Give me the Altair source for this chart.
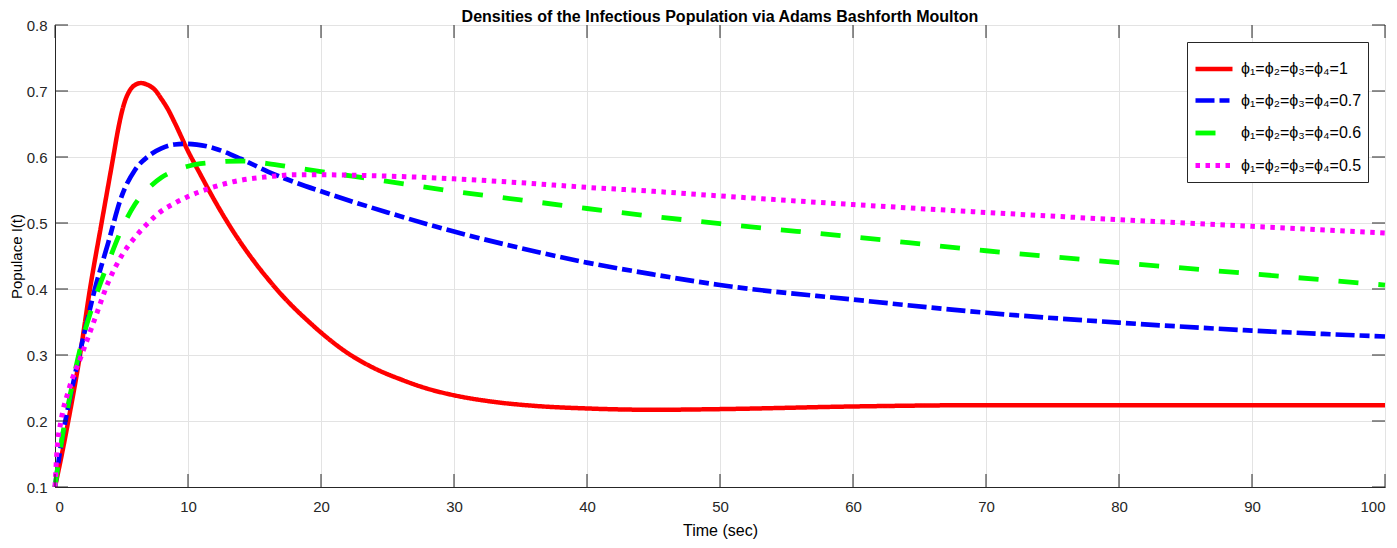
import altair as alt
import pandas as pd

# phi = 1
t_1 = [0, 0.5, 1, 1.88, 2.63, 3.5, 4.38, 4.7, 5.0, 5.3, 5.6, 6, 6.46, 7, 7.5, 8, 8.5, 9, 10, 11, 12, 13, 14, 15,
       16, 17, 18, 19, 20, 22, 24, 26, 28, 30, 33, 36, 40, 45, 50, 60, 70, 80, 90, 100]
s_1 = [0.1, 0.148, 0.2, 0.3, 0.4, 0.5, 0.6, 0.637, 0.666, 0.687, 0.700, 0.709, 0.712, 0.709, 0.702, 0.688, 0.672,
       0.652, 0.609, 0.571, 0.534, 0.500, 0.469, 0.441, 0.4155, 0.392, 0.371, 0.352, 0.334, 0.303, 0.280, 0.263,
       0.249, 0.239, 0.229, 0.223, 0.219, 0.217, 0.218, 0.222, 0.224, 0.224, 0.224, 0.224]

# phi = 0.7 and 0.6
t_c = [0, 0.5, 1, 2, 3, 4, 5, 6, 7, 8, 9, 10, 12, 14, 16, 18, 20, 25, 30, 35, 40, 45, 50, 60, 70, 80, 90, 100]
s_07 = [0.1, 0.17, 0.222, 0.315, 0.40, 0.47, 0.54, 0.58, 0.601, 0.613, 0.619, 0.62, 0.613, 0.597, 0.578, 0.562,
        0.548, 0.516, 0.487, 0.462, 0.440, 0.422, 0.406, 0.384, 0.364, 0.349, 0.337, 0.328]
s_06 = [0.1, 0.17, 0.225, 0.318, 0.385, 0.44, 0.49, 0.528, 0.552, 0.569, 0.579, 0.586, 0.592, 0.594, 0.590, 0.584,
        0.578, 0.563, 0.548, 0.535, 0.522, 0.510, 0.499, 0.479, 0.458, 0.440, 0.423, 0.406]

# phi = 0.5
t_05 = [0, 0.15, 0.45, 1, 2, 3, 4, 5, 6, 7, 8, 9, 10, 12, 14, 16, 18, 20, 25, 30, 35, 40, 45, 50, 60, 70, 80, 90, 100]
s_05 = [0.1, 0.155, 0.2, 0.245, 0.3, 0.355, 0.41, 0.45, 0.478, 0.5, 0.518, 0.53, 0.54, 0.555, 0.565, 0.570, 0.573,
        0.573, 0.571, 0.567, 0.561, 0.554, 0.548, 0.541, 0.528, 0.516, 0.505, 0.495, 0.485]

labels = ["ϕ₁=ϕ₂=ϕ₃=ϕ₄=1", "ϕ₁=ϕ₂=ϕ₃=ϕ₄=0.7", "ϕ₁=ϕ₂=ϕ₃=ϕ₄=0.6", "ϕ₁=ϕ₂=ϕ₃=ϕ₄=0.5"]
times = [t_1, t_c, t_c, t_05]
series = [s_1, s_07, s_06, s_05]
colors = ["#ff0000", "#0000ff", "#00ff00", "#ff00ff"]
dashes = [[1, 0], [19, 5, 10, 5], [20, 20], [4.5, 5.5]]
widths = [4.5, 5, 5, 5]

x_ticks = list(range(0, 101, 10))
y_ticks = [0.1, 0.2, 0.3, 0.4, 0.5, 0.6, 0.7, 0.8]

rows = []
for lab, tt, vals in zip(labels, times, series):
    for ti, v in zip(tt, vals):
        rows.append({"t": ti, "v": v, "s": lab})
df = pd.DataFrame(rows)

df_xb = pd.DataFrame({"t": x_ticks, "v": [0.1] * len(x_ticks)})
df_xt = pd.DataFrame({"t": x_ticks, "v": [0.8] * len(x_ticks)})
df_yl = pd.DataFrame({"t": [0] * len(y_ticks), "v": y_ticks})
df_yr = pd.DataFrame({"t": [100] * len(y_ticks), "v": y_ticks})

font = "Liberation Sans"
xs = alt.Scale(domain=[0, 100], nice=False)
ys = alt.Scale(domain=[0.1, 0.8], nice=False, zero=False)
x_axis = alt.Axis(title="Time (sec)", values=x_ticks, format="d", grid=True, ticks=False)
y_axis = alt.Axis(title="Populace I(t)", values=y_ticks, format=".1f", grid=True, ticks=False)

lines = alt.Chart(df).mark_line(interpolate="monotone").encode(
    x=alt.X("t:Q", scale=xs, axis=x_axis),
    y=alt.Y("v:Q", scale=ys, axis=y_axis),
    color=alt.Color("s:N", scale=alt.Scale(domain=labels, range=colors), sort=labels,
                    legend=alt.Legend(title=None, orient="top-right", offset=17)),
    strokeDash=alt.StrokeDash("s:N", scale=alt.Scale(domain=labels, range=dashes), sort=labels, legend=None),
    strokeWidth=alt.StrokeWidth("s:N", scale=alt.Scale(domain=labels, range=widths), sort=labels, legend=None),
    detail="s:N",
)


def ticks(data, orient, dx=0, dy=0):
    return alt.Chart(data).mark_tick(orient=orient, size=13, thickness=1, color="#262626",
                                     xOffset=dx, yOffset=dy, opacity=1).encode(
        x=alt.X("t:Q", scale=xs, axis=x_axis),
        y=alt.Y("v:Q", scale=ys, axis=y_axis),
    )


chart = alt.layer(
    lines,
    ticks(df_xb, "vertical", dy=-6.5),
    ticks(df_xt, "vertical", dy=6.5),
    ticks(df_yl, "horizontal", dx=6.5),
    ticks(df_yr, "horizontal", dx=-6.5),
).properties(
    width=1330, height=462,
    title=alt.TitleParams("Densities of the Infectious Population via Adams Bashforth Moulton",
                          font="Liberation Sans", fontSize=16, fontWeight="bold", color="#000000",
                          anchor="middle", offset=-7),
    autosize=alt.AutoSizeParams(type="none"),
    padding={"left": 47, "top": 17, "right": 4, "bottom": 53},
).configure_view(
    stroke="#262626", strokeWidth=1
).configure_axis(
    gridColor="#e3e3e3", gridWidth=1,
    domainColor="#262626", domainWidth=1,
    labelFont=font, labelFontSize=15, labelColor="#262626",
    titleFont=font, titleFontSize=15, titleColor="#000000", titleFontWeight="normal",
).configure_axisX(
    labelPadding=12, titlePadding=8, titleFontSize=16,
).configure_axisY(
    labelPadding=8, titlePadding=2,
).configure_legend(
    strokeColor="#262626", fillColor="#ffffff", padding=6, cornerRadius=0,
    labelFont=font, labelFontSize=16, labelColor="#000000",
    symbolType="stroke", symbolStrokeWidth=4.5, symbolSize=1369, rowPadding=1.5,
    labelOffset=6,
)

chart.save("out.html", embed_options={"renderer": "svg", "actions": False})
